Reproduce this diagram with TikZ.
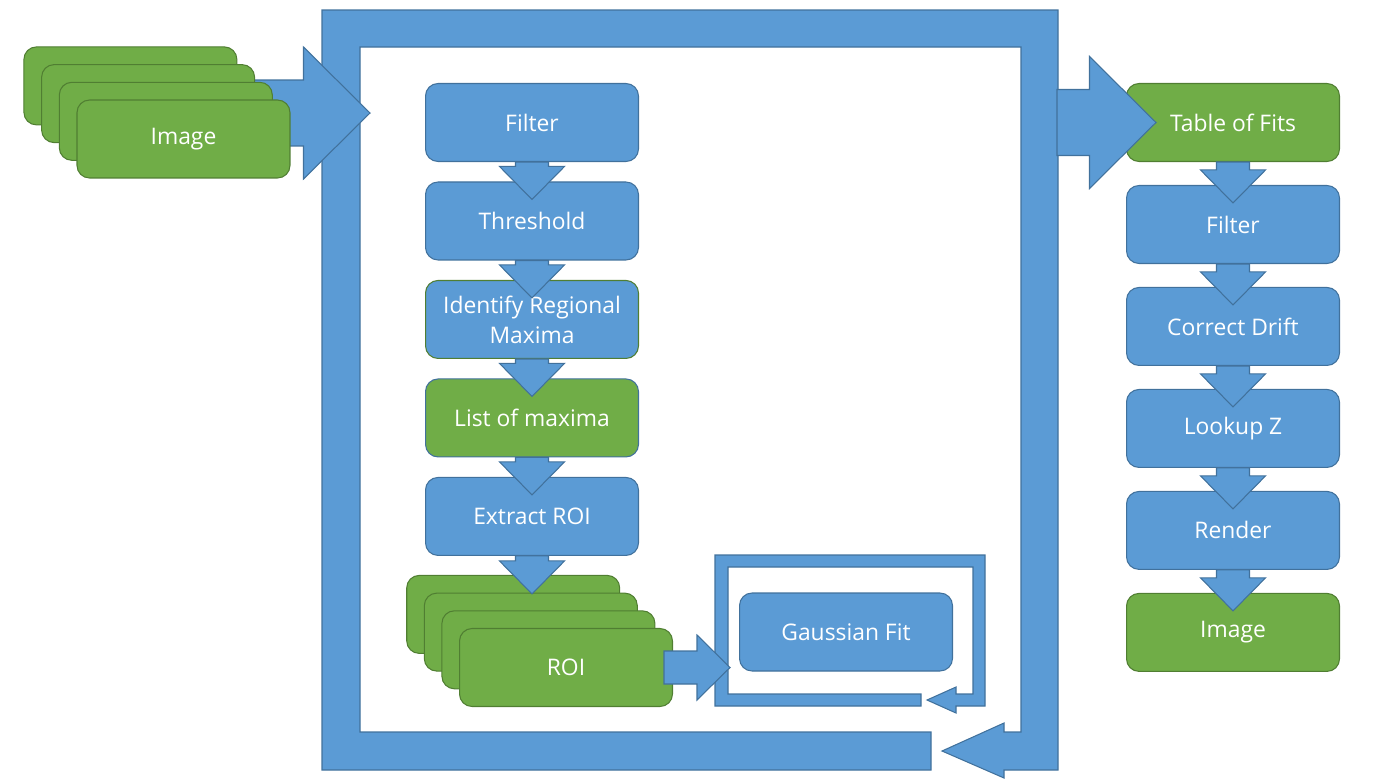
\documentclass[tikz,border=0pt]{standalone}
\usepackage{fontspec}
\setmainfont{Open Sans}
\usepackage{tikz}
\usetikzlibrary{calc}
\definecolor{boxBlue}{HTML}{5B9BD5}
\definecolor{edgeBlue}{HTML}{41719C}
\definecolor{boxGreen}{HTML}{70AD47}
\definecolor{edgeGreen}{HTML}{507E32}
\tikzstyle{blueRec} = [rectangle, rounded corners=0.25cm, minimum width=4.26cm, minimum height=1.56cm, text centered, fill=boxBlue, draw=edgeBlue, text=white, line width=0.6pt]
\tikzstyle{greenRec} = [rectangle, rounded corners=0.25cm, minimum width=4.26cm, minimum height=1.56cm, text centered, fill=boxGreen, draw=edgeGreen, text=white, line width=0.6pt]
\tikzstyle{fatFill} = [fill=boxBlue, draw=edgeBlue, line width=0.6pt, line join=miter]
% block arrow: start, tip, half shaft, half head, head length
\newcommand{\fatArrow}[5]{%
  \coordinate (fa-s) at (#1);
  \coordinate (fa-t) at (#2);
  \coordinate (fa-b) at ($(fa-t)!#5!(fa-s)$);
  \filldraw[fatFill] ($(fa-s)!#3!90:(fa-t)$) -- ($(fa-b)!#3!90:(fa-t)$) -- ($(fa-b)!#4!90:(fa-t)$) -- (fa-t)
    -- ($(fa-b)!#4!-90:(fa-t)$) -- ($(fa-b)!#3!-90:(fa-t)$) -- ($(fa-s)!#3!-90:(fa-t)$) -- cycle;
}
\newcommand{\smallArrow}[2]{\fatArrow{#1}{#2}{0.33cm}{0.65cm}{0.66cm}}
\newcommand{\bigArrow}[2]{\fatArrow{#1}{#2}{0.66cm}{1.32cm}{1.33cm}}

\begin{document}
\begin{tikzpicture}[x=0.02cm, y=-0.02cm, node distance=1.97cm, font=\fontsize{13}{17}\selectfont, every text node part/.style={align=center}]
	\useasboundingbox (0,0) rectangle (1385,781);
	% outer loop
	\filldraw[fatFill] (931,732) -- (360,732) -- (360,47) -- (1021,47) -- (1021,732) -- (1004,732) -- (1004,723)
		-- (942,751) -- (1004,778) -- (1004,770) -- (1058,770) -- (1058,10) -- (322,10) -- (322,770) -- (931,770) -- cycle;
	% input stack
	\coordinate (imgin) at (370,113);
	\bigArrow{$(imgin)+(-120,0)$}{imgin}
	\foreach \k in {3,2,1}
		\node (img\k) [greenRec] at ({183.5-17.7*\k},{139-17.7*\k}) {};
	\node (img) [greenRec] at (183.5,139) {Image};
	% detection column
	\node (filter) [blueRec] at (532,122.5) {Filter};
	\node (thresh) [blueRec, below of=filter] {Threshold};
	\node (ident) [blueRec, draw=edgeGreen, below of=thresh] {Identify Regional\\Maxima};
	\node (maxlist) [greenRec, draw=edgeBlue, below of=ident] {List of maxima};
	\node (extract) [blueRec, below of=maxlist] {Extract ROI};
	\foreach \k in {3,2,1}
		\node (roi\k) [greenRec] at ({566-17.6*\k},{667.5-17.7*\k}) {};
	\node (roi) [greenRec] at (566,667.5) {ROI};
	\foreach \a/\b in {filter/thresh, thresh/ident, ident/maxlist, maxlist/extract}
		{\smallArrow{\a.south}{$(\b.north)+(0,18)$}}
	\smallArrow{extract.south}{$(extract.south)+(0,38)$}
	% fitting loop
	\filldraw[fatFill] (921,694) -- (728,694) -- (728,567) -- (973,567) -- (973,694) -- (956,694) -- (956,687)
		-- (927,700) -- (956,713) -- (956,706) -- (985,706) -- (985,555) -- (715,555) -- (715,706) -- (921,706) -- cycle;
	\node (gauss) [blueRec] at (846,632) {Gaussian Fit};
	\smallArrow{$(roi.east)+(-9,0)$}{$(roi.east)+(57,0)$}
	% post-processing column
	\begin{scope}[node distance=2.04cm]
		\node (fits) [greenRec] at (1233,122.5) {Table of Fits};
		\node (filter2) [blueRec, below of=fits] {Filter};
		\node (drift) [blueRec, below of=filter2] {Correct Drift};
		\node (lookz) [blueRec, below of=drift] {Lookup Z};
		\node (render) [blueRec, below of=lookz] {Render};
		\node (imgout) [greenRec, below of=render] {Image};
	\end{scope}
	\foreach \a/\b in {fits/filter2, filter2/drift, drift/lookz, lookz/render, render/imgout}
		{\smallArrow{\a.south}{$(\b.north)+(0,18)$}}
	\bigArrow{$(fits.west)+(-69,0)$}{$(fits.west)+(30,0)$}
\end{tikzpicture}
\end{document}
